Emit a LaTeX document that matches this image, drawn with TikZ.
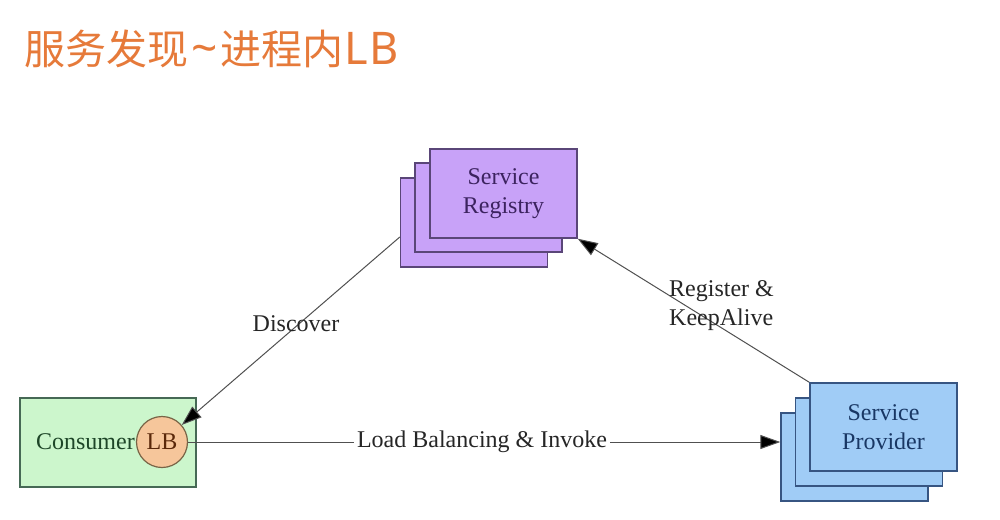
\documentclass[tikz,border=0pt]{standalone}
\usepackage{fontspec}
\setmainfont{Liberation Serif}
\newfontfamily\cjk{Noto Sans CJK SC}
\newfontfamily\latintitle{Noto Sans}
\usetikzlibrary{arrows.meta,calc}
\definecolor{titleor}{RGB}{230,122,58}
\definecolor{regfill}{RGB}{200,162,248}
\definecolor{regdraw}{RGB}{90,70,120}
\definecolor{regtext}{RGB}{60,35,95}
\definecolor{confill}{RGB}{204,246,204}
\definecolor{condraw}{RGB}{70,105,85}
\definecolor{context}{RGB}{30,70,40}
\definecolor{lbfill}{RGB}{246,198,155}
\definecolor{lbdraw}{RGB}{120,100,70}
\definecolor{lbtext}{RGB}{90,40,10}
\definecolor{provfill}{RGB}{160,204,246}
\definecolor{provdraw}{RGB}{55,85,130}
\definecolor{provtext}{RGB}{25,55,100}
\definecolor{linecol}{RGB}{80,80,80}
\tikzset{
  txt/.style={font=\fontsize{24}{29}\selectfont},
  regbox/.style={txt, draw=regdraw, line width=1.4pt, fill=regfill, minimum width=147pt, minimum height=89pt, text=regtext, align=center},
  provbox/.style={txt, draw=provdraw, line width=1.4pt, fill=provfill, minimum width=147pt, minimum height=88pt, text=provtext, align=center},
  conbox/.style={draw=condraw, line width=1.4pt, fill=confill, minimum width=176pt, minimum height=89pt},
  lbcirc/.style={txt, circle, draw=lbdraw, line width=1.2pt, fill=lbfill, minimum size=51pt, inner sep=0pt, text=lbtext},
  conn/.style={draw=linecol, line width=1pt, -{Triangle[length=20pt,width=14pt,fill=black]}},
  lbl/.style={txt, text=black!85, inner sep=2pt}
}
\begin{document}
\begin{tikzpicture}[x=1pt,y=-1pt]
\useasboundingbox[fill=white] (0,0) rectangle (1000,519);
\node[anchor=base west, inner sep=0pt, text=titleor, font=\cjk\fontsize{41}{44}\selectfont] (title) at (24,64) {服务发现\hspace{3pt}{\latintitle\fontsize{46}{48}\selectfont\textasciitilde}\hspace{3pt}进程内{\latintitle\fontsize{45}{48}\selectfont\kern1pt L\kern1pt B}};
% registry stack
\node[regbox] (reg3) at (474,222.5) {};
\node[regbox] (reg2) at (488.5,207.5) {};
\node[regbox] (reg) at (503.5,193.5) {Service\\Registry};
% provider stack
\node[provbox] (prov3) at (854.5,457) {};
\node[provbox] (prov2) at (869,442) {};
\node[provbox] (prov) at (883.5,427) {Service\\Provider};
% consumer
\node[conbox] (con) at (108,442.5) {};
\node[anchor=east, inner sep=0pt, text=context, font=\fontsize{24}{29}\selectfont] (ctext) at (135,442) {Consumer};
\node[lbcirc] (lb) at (162,442) {LB};
% connectors
\coordinate (dstart) at ([yshift=-14.5pt]reg3.west);
\draw[conn] (dstart) -- (lb);
\draw[conn] (prov.north west) -- (reg.south east);
\draw[conn] (lb.east) -- (lb.east -| prov3.west);
% labels
\node[lbl] (ldisc) at (296,324) {Discover};
\node[lbl, align=left, anchor=west] (lreg) at (667,306) {Register \&\\KeepAlive};
\node[lbl, fill=white, inner sep=3pt] (llb) at (482,442) {Load Balancing \& Invoke};
\end{tikzpicture}
\end{document}
